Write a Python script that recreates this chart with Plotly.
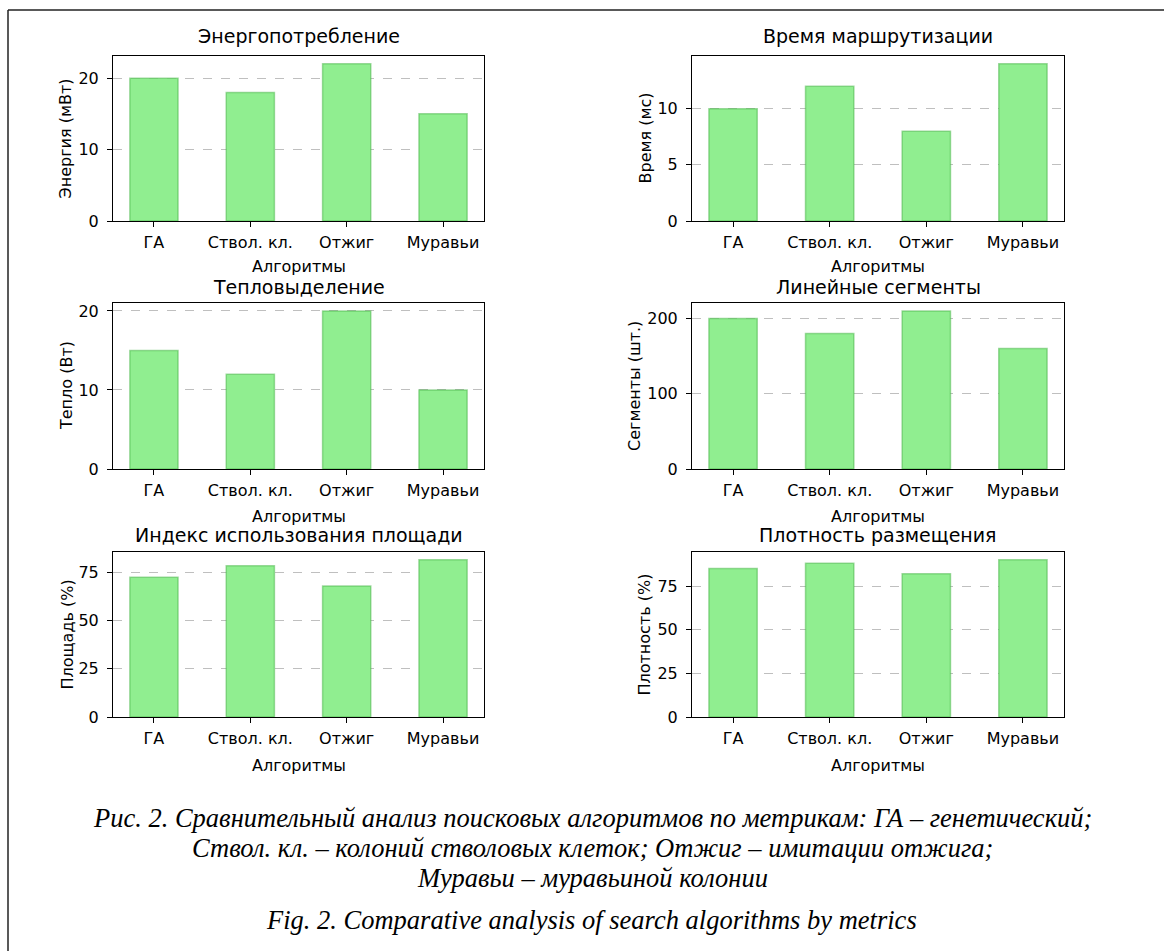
import plotly.graph_objects as go

# ---------------- data ----------------
algorithms = ["ГА", "Ствол. кл.", "Отжиг", "Муравьи"]
energy = [20, 18, 22, 15]
routing_time = [10, 12, 8, 14]
heat = [15, 12, 20, 10]
segments = [200, 180, 210, 160]
area_index = [72.5, 78.5, 68, 81.5]
density = [85, 88, 82, 90]

titles = ["Энергопотребление", "Время маршрутизации", "Тепловыделение",
          "Линейные сегменты", "Индекс использования площади", "Плотность размещения"]
ylabels = ["Энергия (мВт)", "Время (мс)", "Тепло (Вт)",
           "Сегменты (шт.)", "Площадь (%)", "Плотность (%)"]
series = [energy, routing_time, heat, segments, area_index, density]
ytick_steps = [10, 5, 10, 100, 25, 25]
xlabel = "Алгоритмы"

caption_ru = ["Рис. 2. Сравнительный анализ поисковых алгоритмов по метрикам: ГА – генетический;",
              "Ствол. кл. – колоний стволовых клеток; Отжиг – имитации отжига;",
              "Муравьи – муравьиной колонии"]
caption_en = "Fig. 2. Comparative analysis of search algorithms by metrics"

# ---------------- layout (pixels) ----------------
W, H = 1164, 951
col_px = [(113, 484), (692, 1064)]
row_px = [(56, 221), (303, 469), (552, 717)]
title_y = [36, 287, 535]
xlab_y = [266, 516, 765]
ylab_x = [65, 645, 67, 635, 67, 644]

def px(x):
    return x / W

def py(y):
    return 1 - y / H

FONT = "DejaVu Sans"
fig = go.Figure()
annotations = []
layout_axes = {}

for i, vals in enumerate(series):
    n = i + 1
    r, c = divmod(i, 2)
    x0, x1 = col_px[c]
    y0, y1 = row_px[r]
    fig.add_trace(go.Bar(
        x=algorithms, y=vals, width=0.5,
        marker=dict(color="#90EE90", line=dict(color="rgba(70,180,70,0.5)", width=1.5)),
        xaxis=f"x{n}", yaxis=f"y{n}", showlegend=False, hoverinfo="x+y"))
    layout_axes[f"xaxis{n}"] = dict(
        domain=[px(x0), px(x1)], anchor=f"y{n}", range=[-0.425, 3.425],
        showline=True, mirror=True, linecolor="black", linewidth=1,
        ticks="outside", ticklen=5, tickcolor="black", tickwidth=1, ticklabelstandoff=2,
        tickfont=dict(family=FONT, size=16, color="black"),
        showgrid=False, zeroline=False, automargin=False, fixedrange=True)
    layout_axes[f"yaxis{n}"] = dict(
        domain=[py(y1), py(y0)], anchor=f"x{n}", range=[0, max(vals) * 1.05],
        dtick=ytick_steps[i], tick0=0,
        showline=True, mirror=True, linecolor="black", linewidth=1,
        ticks="outside", ticklen=5, tickcolor="black", tickwidth=1, ticklabelstandoff=5,
        tickfont=dict(family=FONT, size=16, color="black"),
        showgrid=True, gridcolor="rgba(128,128,128,0.5)", griddash="dash", gridwidth=1,
        zeroline=False, layer="above traces", automargin=False, fixedrange=True)
    cx = (x0 + x1) / 2
    annotations.append(dict(text=titles[i], x=px(cx), y=py(title_y[r]), xref="paper", yref="paper",
                            xanchor="center", yanchor="middle", showarrow=False,
                            font=dict(family=FONT, size=19, color="black")))
    annotations.append(dict(text=xlabel, x=px(cx), y=py(xlab_y[r]), xref="paper", yref="paper",
                            xanchor="center", yanchor="middle", showarrow=False,
                            font=dict(family=FONT, size=16, color="black")))
    annotations.append(dict(text=ylabels[i], x=px(ylab_x[i]), y=py((y0 + y1) / 2), xref="paper", yref="paper",
                            xanchor="center", yanchor="middle", showarrow=False, textangle=-90,
                            font=dict(family=FONT, size=16, color="black")))

cap_font = dict(family="Liberation Serif", size=26.5, color="black")
for k, (line, yc) in enumerate(zip(caption_ru, [818, 848, 878])):
    annotations.append(dict(text=f"<i>{line}</i>", x=px(592), y=py(yc), xref="paper", yref="paper",
                            xanchor="center", yanchor="middle", showarrow=False, font=cap_font))
annotations.append(dict(text=f"<i>{caption_en}</i>", x=px(591), y=py(920), xref="paper", yref="paper",
                        xanchor="center", yanchor="middle", showarrow=False, font=cap_font))

shapes = [
    dict(type="line", xref="paper", yref="paper", x0=px(8), x1=px(8), y0=0, y1=py(10),
         line=dict(color="#222", width=1.5)),
    dict(type="line", xref="paper", yref="paper", x0=px(8), x1=1, y0=py(10), y1=py(10),
         line=dict(color="#222", width=1.5)),
]

fig.update_layout(
    width=W, height=H, margin=dict(l=0, r=0, t=0, b=0),
    paper_bgcolor="white", plot_bgcolor="white",
    annotations=annotations, shapes=shapes, bargap=0.5,
    **layout_axes)

fig.write_html("out.html")
